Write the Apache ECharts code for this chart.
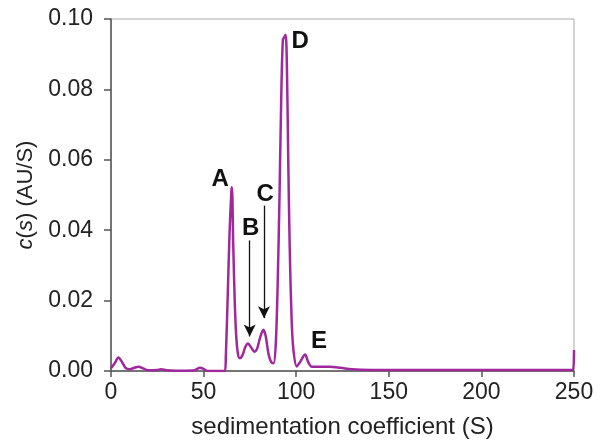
<!DOCTYPE html>
<html>
<head>
<meta charset="utf-8">
<script src="https://cdn.jsdelivr.net/npm/echarts@6/dist/echarts.min.js"></script>
<style>
  html, body { margin: 0; padding: 0; background: #fff; }
  #chart { width: 597px; height: 444px; }
</style>
</head>
<body>
<div id="chart"></div>
<script>
// sedimentation coefficient (S) and c(s)
const sValues = [
  0, 2, 4, 6, 8, 10, 13, 15, 17, 20, 25, 27, 30, 35, 40, 45, 48, 50, 52, 55, 60, 61.5,
  62, 63, 64, 65, 65.3, 66, 66.8, 67.6, 68.5, 69.5, 71, 72.5, 74, 75.5, 77.5, 79, 80.5,
  82.3, 83.5, 85, 86.5, 87.8, 89, 90, 91, 92, 92.8, 93.5, 94.3, 95, 95.7, 96.5, 97.5,
  98.5, 100.3, 102, 104.8, 106.5, 108.4, 112, 118, 124, 130, 140, 160, 180, 200, 220,
  240, 249.5, 250
];
const csValues = [
  0.0008, 0.0022, 0.0038, 0.0025, 0.0008, 0.0005, 0.0010, 0.0012, 0.0008, 0.0002, 0.0003,
  0.0005, 0.0002, 0.0001, 0.0001, 0.0002, 0.0009, 0.0006, 0.0, 0.0, 0.0, 0.0,
  0.004, 0.021, 0.039, 0.051, 0.0522, 0.036, 0.020, 0.010, 0.005, 0.0036, 0.0045, 0.0068,
  0.0078, 0.0068, 0.0055, 0.0065, 0.0095, 0.0117, 0.010, 0.005, 0.0025, 0.0022, 0.008,
  0.025, 0.050, 0.080, 0.094, 0.0948, 0.0955, 0.086, 0.060, 0.035, 0.015, 0.006, 0.0013,
  0.0025, 0.0047, 0.0025, 0.0012, 0.0012, 0.0012, 0.0009, 0.0005, 0.0003, 0.0003, 0.0003,
  0.0003, 0.0003, 0.0003, 0.0003, 0.006
];

// peak labels (data coordinates)
const peakNames = ['A', 'B', 'C', 'D', 'E'];
const peakLabelS = [58.9, 75.4, 83.2, 102.2, 112.3];
const peakLabelC = [0.0545, 0.0404, 0.0503, 0.0936, 0.0084];

// arrows for B and C: [s, from c, to c]
const arrowS = [74.9, 82.6];
const arrowFrom = [0.0371, 0.047];
const arrowTo = [0.0098, 0.015];

const xTicks = { min: 0, max: 250, interval: 50 };
const yTicks = { min: 0, max: 0.1, interval: 0.02 };

const chart = echarts.init(document.getElementById('chart'));

const points = sValues.map((s, i) => [s, csValues[i]]);
const labelPoints = peakNames.map((n, i) => ({ name: n, coord: [peakLabelS[i], peakLabelC[i]] }));
const arrows = arrowS.map((s, i) => [{ coord: [s, arrowFrom[i]] }, { coord: [s, arrowTo[i]] }]);

const font = 'Liberation Sans, Arial, sans-serif';

chart.setOption({
  animation: false,
  backgroundColor: '#fff',
  grid: {
    left: 111, right: 23, top: 19, bottom: 71,
    show: true, borderColor: '#a8a8a8', borderWidth: 1
  },
  xAxis: {
    type: 'value',
    min: xTicks.min, max: xTicks.max, interval: xTicks.interval,
    name: 'sedimentation coefficient (S)',
    nameLocation: 'middle',
    nameGap: 44,
    nameTextStyle: { fontFamily: font, fontSize: 24, color: '#222' },
    axisLine: { show: true, lineStyle: { color: '#555', width: 1.5 } },
    axisTick: { show: true, length: 6, lineStyle: { color: '#555', width: 1.5 } },
    axisLabel: { fontFamily: font, fontSize: 23, color: '#222', margin: 10 },
    splitLine: { show: false }
  },
  yAxis: {
    type: 'value',
    min: yTicks.min, max: yTicks.max, interval: yTicks.interval,
    name: '{i|c}({i|s}) (AU/S)',
    nameLocation: 'middle',
    nameGap: 73,
    nameRotate: 90,
    nameTextStyle: {
      fontFamily: font, fontSize: 22, color: '#222',
      rich: { i: { fontFamily: font, fontSize: 22, fontStyle: 'italic', color: '#222' } }
    },
    axisLine: { show: true, lineStyle: { color: '#555', width: 1.5 } },
    axisTick: { show: true, length: 7, lineStyle: { color: '#555', width: 1.5 } },
    axisLabel: {
      fontFamily: font, fontSize: 23, color: '#222', margin: 18,
      formatter: v => v.toFixed(2)
    },
    splitLine: { show: false }
  },
  series: [{
    type: 'line',
    data: points,
    showSymbol: false,
    smooth: 0.3,
    lineStyle: { color: '#a0289c', width: 2.5 },
    markLine: {
      silent: true,
      symbol: ['none', 'arrow'],
      symbolSize: [9, 12],
      label: { show: false },
      lineStyle: { color: '#111', width: 1.3, type: 'solid' },
      data: arrows
    },
    markPoint: {
      silent: true,
      symbol: 'circle',
      symbolSize: 1,
      itemStyle: { color: 'rgba(0,0,0,0)' },
      label: {
        show: true, position: 'inside', formatter: '{b}',
        fontFamily: font, fontSize: 24, fontWeight: 'bold', color: '#111'
      },
      data: labelPoints
    }
  }]
});
</script>
</body>
</html>
